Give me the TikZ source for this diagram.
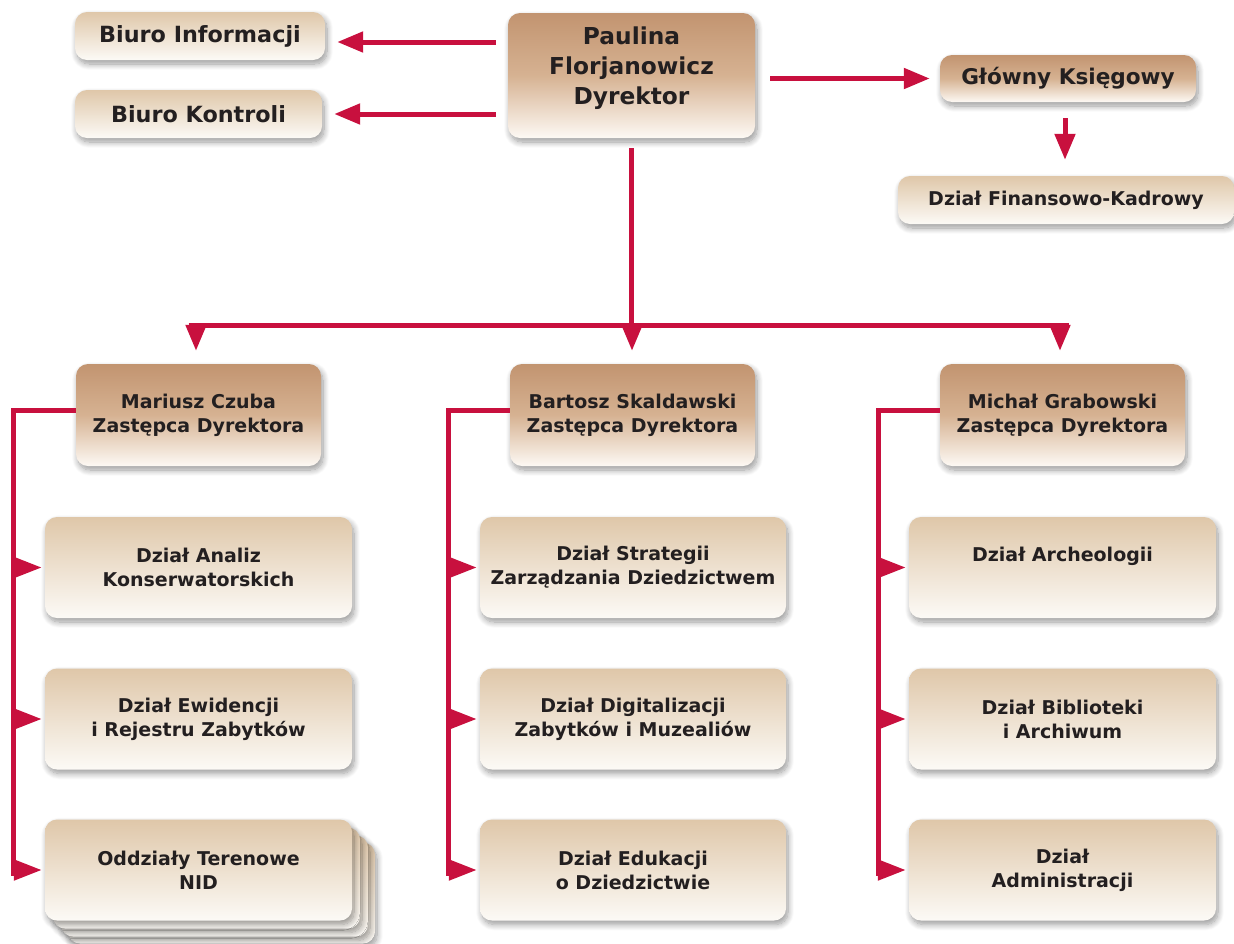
\documentclass[tikz,border=0pt]{standalone}
\usepackage{fontspec}
\setmainfont{DejaVu Sans}
\usetikzlibrary{arrows.meta,shadows.blur,calc}
\definecolor{nidred}{HTML}{C8103E}
\definecolor{brtop}{HTML}{C29470}
\definecolor{brmid}{HTML}{D6B292}
\definecolor{brbot}{HTML}{FDF9F4}
\definecolor{lttop}{HTML}{DFC7A9}
\definecolor{ltbot}{HTML}{FCFAF6}
\definecolor{txt}{HTML}{231F20}
\tikzset{
  box/.style={rounded corners=12pt, align=center, text=txt, font=\bfseries\fontsize{19}{24}\selectfont,
    blur shadow={shadow xshift=2pt, shadow yshift=-4pt, shadow blur radius=6pt, shadow blur steps=10, shadow opacity=40}},
  lightbox/.style={box, top color=lttop, bottom color=ltbot},
  darkbox/.style={box, top color=brtop, bottom color=brbot, middle color=brmid},
  bigtext/.style={font=\bfseries\fontsize{22.3}{27}\selectfont},
  redline/.style={draw=nidred, line width=5pt},
  arr/.style={redline, -{Triangle[length=26pt,width=20pt]}},
  arrs/.style={redline, -{Triangle[length=28pt,width=20pt]}},
}
\begin{document}
\begin{tikzpicture}[x=1pt,y=-1pt]
\useasboundingbox (0,0) rectangle (1234,943);
% top row
\node[lightbox, bigtext, minimum width=250pt, minimum height=48pt] (bi) at (200,36) {Biuro Informacji};
\node[lightbox, bigtext, minimum width=247pt, minimum height=48pt] (bk) at (198.5,114) {Biuro Kontroli};
\node[darkbox, minimum width=247pt, minimum height=125pt, font=\bfseries\fontsize{23.3}{30}\selectfont] (dir) at (631.5,75.5) {Paulina\\Florjanowicz\\Dyrektor\\[-10pt]};
\node[darkbox, minimum width=256pt, minimum height=47pt, font=\bfseries\fontsize{21.6}{26}\selectfont] (gk) at (1068,78.5) {Główny Księgowy};
\node[lightbox, minimum width=336pt, minimum height=48pt] (dfk) at (1066,200) {Dział Finansowo-Kadrowy};
% deputies
\node[darkbox, minimum width=245pt, minimum height=102pt] (mc) at (198.5,415) {Mariusz Czuba\\Zastępca Dyrektora};
\node[darkbox, minimum width=245pt, minimum height=102pt] (bs) at (632.5,415) {Bartosz Skaldawski\\Zastępca Dyrektora};
\node[darkbox, minimum width=245pt, minimum height=102pt] (mg) at (1062.5,415) {Michał Grabowski\\Zastępca Dyrektora};
% stacked copies behind Oddziały
\foreach \k/\s in {3/23,2/16,1/8}{
  \node[lightbox, minimum width=307pt, minimum height=101pt] (L3s\k) at (198.5+\s,870+\s) {};
}
% departments
\node[lightbox, minimum width=307pt, minimum height=101pt] (L1) at (198.5,567.5) {Dział Analiz\\Konserwatorskich};
\node[lightbox, minimum width=307pt, minimum height=101pt] (L2) at (198.5,719) {Dział Ewidencji\\i Rejestru Zabytków};
\node[lightbox, minimum width=307pt, minimum height=101pt] (L3) at (198.5,870) {Oddziały Terenowe\\NID};
\node[lightbox, minimum width=306pt, minimum height=101pt] (M1) at (633,567.5) {Dział Strategii\\Zarządzania Dziedzictwem};
\node[lightbox, minimum width=306pt, minimum height=101pt] (M2) at (633,719) {Dział Digitalizacji\\Zabytków i Muzealiów};
\node[lightbox, minimum width=306pt, minimum height=101pt] (M3) at (633,870) {Dział Edukacji\\o Dziedzictwie};
\node[lightbox, minimum width=307pt, minimum height=101pt] (R1) at (1062.5,567.5) {Dział Archeologii\\[3pt]};
\node[lightbox, minimum width=307pt, minimum height=101pt] (R2) at (1062.5,719) {Dział Biblioteki\\i Archiwum};
\node[lightbox, minimum width=307pt, minimum height=101pt] (R3) at (1062.5,870) {Dział\\Administracji};
% connectors top
\draw[arr] ([xshift=-12pt,yshift=-6pt]dir.west |- bi.east) -- ([xshift=12pt,yshift=-6pt]bi.east);
\draw[arr] ([xshift=-12pt]dir.west |- bk.east) -- ([xshift=12pt]bk.east);
\draw[arr] ([xshift=15pt]dir.east |- gk.west) -- ([xshift=-10pt]gk.west);
\draw[arr] ([xshift=-3pt,yshift=-16pt]gk.south) -- ([xshift=-1pt,yshift=16pt]dfk.north);
% trunk
\coordinate (bar) at (0,325);
\draw[redline] ([yshift=-10pt]dir.south) -- (dir.south |- bar);
\draw[redline] ([xshift=-10pt]mc.north |- bar) -- ([xshift=6pt]mg.north |- bar);
\draw[arr] ([xshift=-2.5pt]mc.north |- bar) -- ([xshift=-2.5pt,yshift=13pt]mc.north);
\draw[arr] ([xshift=-0.5pt]bs.north |- bar) -- ([xshift=-0.5pt,yshift=13pt]bs.north);
\draw[arr] ([xshift=-2.5pt]mg.north |- bar) -- ([xshift=-2.5pt,yshift=13pt]mg.north);
% brackets
\draw[redline] ([yshift=5pt]mc.west) -| ([xshift=-31pt,yshift=-6pt]L3.west);
\draw[redline] ([yshift=5pt]bs.west) -| ([xshift=-31pt,yshift=-6pt]M3.west);
\draw[redline] ([yshift=5pt]mg.west) -| ([xshift=-30pt,yshift=-6pt]R3.west);
\foreach \a/\o in {L1/31,L2/31,L3/31,M1/31,M2/31,M3/31,R1/30,R2/30,R3/30}{
  \draw[arrs] ([xshift=-\o pt-2.5pt]\a.west) -- ([xshift=-3pt]\a.west);
}
\end{tikzpicture}
\end{document}
